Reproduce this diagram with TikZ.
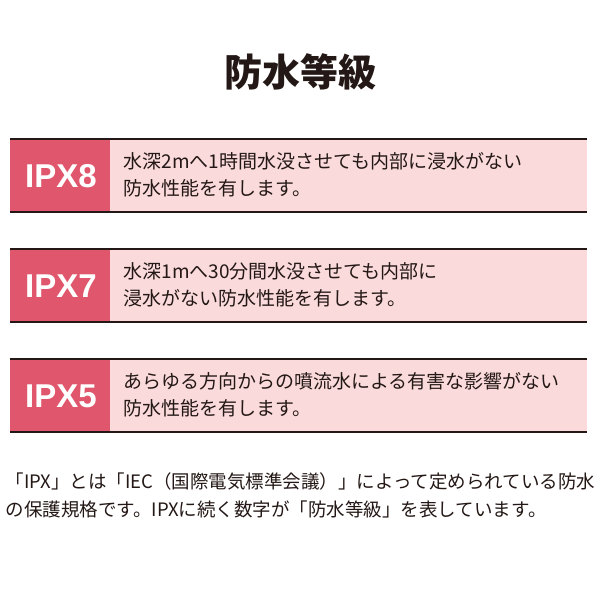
\documentclass[tikz,border=0pt]{standalone}
\usepackage{fontspec}
\setmainfont{Noto Sans CJK JP}
\newfontfamily\lat{Liberation Sans}
\definecolor{pk}{HTML}{E0566C}
\definecolor{lp}{HTML}{FADADB}
\definecolor{tx}{HTML}{231815}
\begin{document}
\begin{tikzpicture}[x=1pt,y=-1pt,
 lab/.style={font=\lat\fontsize{33}{33}\bfseries\selectfont,text=white},
 body/.style={anchor=west,font=\fontsize{19}{27}\selectfont,text=tx,align=left}]
\useasboundingbox[fill=white] (0,0) rectangle (600,600);
\node[font=\fontsize{38}{38}\bfseries\selectfont,text=tx] (title) at (300,72) {防水等級};
\foreach \y/\l/\t [count=\i] in {139/IPX8/{水深2mへ1時間水没させても内部に浸水がない\\防水性能を有します。},249/IPX7/{水深1mへ30分間水没させても内部に\\浸水がない防水性能を有します。},359/IPX5/{あらゆる方向からの噴流水による有害な影響がない\\防水性能を有します。}}{
 \fill[lp] (10,\y) rectangle (587,\y+73);
 \fill[pk] (10,\y) rectangle (110,\y+73);
 \draw[tx,line width=1.4pt] (10,\y) -- (587,\y);
 \draw[tx,line width=1.4pt] (10,\y+73) -- (587,\y+73);
 \node[lab] (l\i) at (61,\y+37) {\l};
 \node[body] (b\i) at (120,\y+36) {\t};
}
\node[anchor=west,font=\fontsize{18.5}{28}\selectfont,text=tx,align=left] (note) at (2,495)
 {「IPX」とは「IEC（国際電気標準会議）」によって定められている防水\\の保護規格です。IPXに続く数字が「防水等級」を表しています。};
\end{tikzpicture}
\end{document}
